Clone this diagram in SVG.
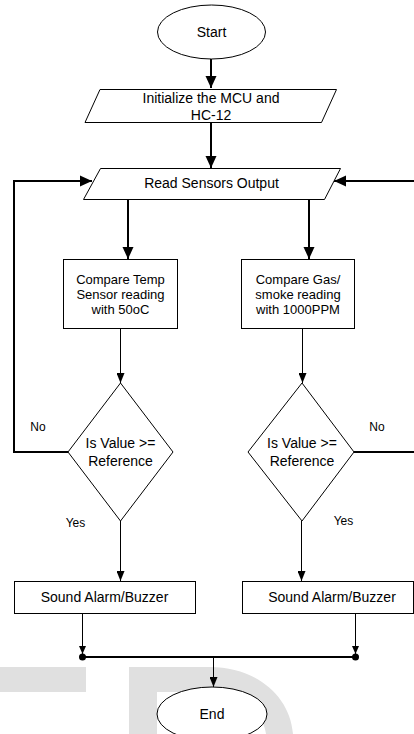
<svg xmlns="http://www.w3.org/2000/svg" width="414" height="734" viewBox="0 0 414 734">
<defs>
<style>
.n{fill:#fff;stroke:#000;stroke-width:1}
.t{font-family:"Liberation Sans",Arial,sans-serif;font-size:14px;fill:#000;text-anchor:middle}
.s{font-size:13px}
.l{font-family:"Liberation Sans",Arial,sans-serif;font-size:12px;fill:#000;text-anchor:middle}
.c{fill:none;stroke:#000;stroke-width:1}
.k{fill:none;stroke:#000;stroke-width:2}
</style>
<marker id="ah" markerUnits="userSpaceOnUse" markerWidth="12" markerHeight="12" refX="12" refY="6" orient="auto"><path d="M0,0.5 L12,6 L0,11.5 z" fill="#000"/></marker>
<marker id="as" markerUnits="userSpaceOnUse" markerWidth="10" markerHeight="8" refX="10" refY="4" orient="auto"><path d="M0,0 L10,4 L0,8 z" fill="#000"/></marker>
<marker id="ax" markerUnits="userSpaceOnUse" markerWidth="8" markerHeight="7" refX="8" refY="3.5" orient="auto"><path d="M0,0 L8,3.5 L0,7 z" fill="#000"/></marker>
</defs>
<rect width="414" height="734" fill="#fff"/>
<g id="watermark" fill="#e0e0e0">
<rect x="0" y="667" width="86" height="25"/>
<path d="M129,734 V667 H210 C255,667 290,695 293,734 H266 C263,712 240,692 210,692 H157 V734 Z"/>
</g>
<g id="connectors">
<path class="k" d="M211,59 V88" marker-end="url(#ah)"/>
<path class="k" d="M211,122 V168" marker-end="url(#ah)"/>
<path class="k" d="M68,452 H14 V181 H92" marker-end="url(#ah)"/>
<path class="k" d="M354,452 H416 V181 H334" marker-end="url(#ah)"/>
<path class="k" d="M128,199 V259" marker-end="url(#ah)"/>
<path class="k" d="M309,199 V259" marker-end="url(#ah)"/>
<path class="c" d="M120.5,328 V383" marker-end="url(#as)"/>
<path class="c" d="M302.5,328 V383" marker-end="url(#as)"/>
<path class="c" d="M120.5,521 V581" marker-end="url(#as)"/>
<path class="c" d="M301.5,521 V581" marker-end="url(#as)"/>
<path class="c" d="M82.5,613 V654" marker-end="url(#ax)"/>
<path class="c" d="M355.5,613 V654" marker-end="url(#ax)"/>
<path class="k" d="M82,657 H355"/>
<circle cx="82.5" cy="657" r="3.5" fill="#000"/>
<circle cx="355.5" cy="657" r="3.5" fill="#000"/>
<path class="c" d="M213.5,657 V687" marker-end="url(#as)"/>
<text class="l" x="38" y="431">No</text>
<text class="l" x="75.5" y="527">Yes</text>
<text class="l" x="377" y="431">No</text>
<text class="l" x="343.5" y="525">Yes</text>
</g>
<g id="start">
<ellipse class="n" cx="211.5" cy="32" rx="54" ry="27"/>
<text class="t" x="211.5" y="37">Start</text>
</g>
<g id="init">
<path class="n" d="M100,89.5 H336.5 L321.5,122.5 H85 Z"/>
<text class="t" x="211" y="103">Initialize the MCU and</text>
<text class="t" x="211" y="120">HC-12</text>
</g>
<g id="read">
<path class="n" d="M100.5,168.5 H340.5 L324.5,199.5 H83.5 Z"/>
<text class="t" x="211.5" y="188">Read Sensors Output</text>
</g>
<g id="cmpTemp">
<rect class="n" x="63.5" y="259.5" width="114" height="69"/>
<text class="t s" x="120.5" y="284">Compare Temp</text>
<text class="t s" x="120.5" y="299">Sensor reading</text>
<text class="t s" x="120.5" y="314">with 50oC</text>
</g>
<g id="cmpGas">
<rect class="n" x="241.5" y="259.5" width="113" height="69"/>
<text class="t s" x="298" y="284">Compare Gas/</text>
<text class="t s" x="298" y="299">smoke reading</text>
<text class="t s" x="298" y="314">with 1000PPM</text>
</g>
<g id="decTemp">
<path class="n" d="M120.5,383 L173,452 L120.5,521 L68,452 Z"/>
<text class="t" x="120.5" y="448">Is Value &gt;=</text>
<text class="t" x="120.5" y="466">Reference</text>
</g>
<g id="decGas">
<path class="n" d="M302,383 L354,452 L302,521 L248,452 Z"/>
<text class="t" x="302" y="448">Is Value &gt;=</text>
<text class="t" x="302" y="466">Reference</text>
</g>
<g id="alarm1">
<rect class="n" x="14.5" y="581.5" width="181" height="32"/>
<text class="t" x="104.5" y="602">Sound Alarm/Buzzer</text>
</g>
<g id="alarm2">
<rect class="n" x="242.5" y="581.5" width="171" height="32"/>
<text class="t" x="332" y="602">Sound Alarm/Buzzer</text>
</g>
<g id="end">
<ellipse class="n" cx="212" cy="714" rx="55" ry="27"/>
<text class="t" x="212" y="719">End</text>
</g>
</svg>
